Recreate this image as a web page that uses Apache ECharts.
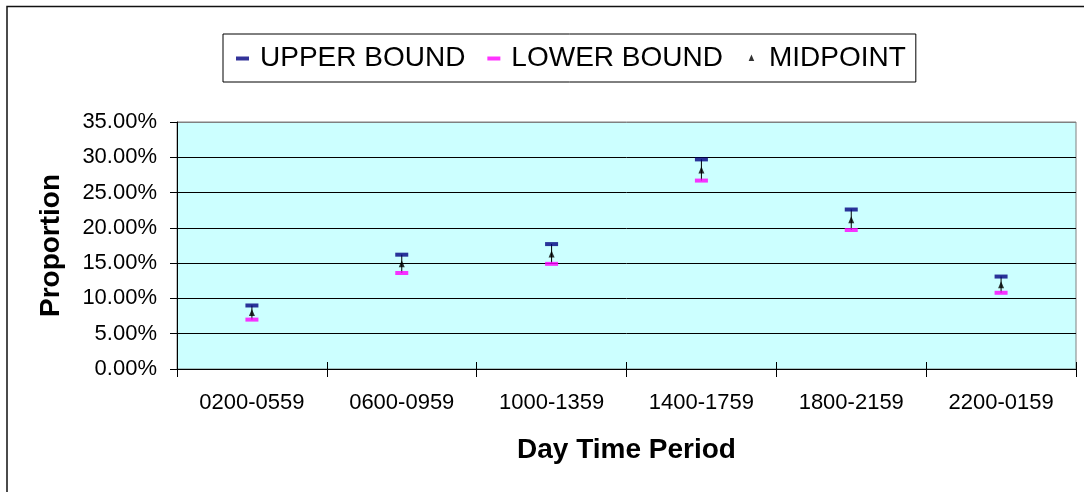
<!DOCTYPE html>
<html>
<head>
<meta charset="utf-8">
<script src="https://cdn.jsdelivr.net/npm/echarts@6/dist/echarts.min.js"></script>
<style>
  html, body { margin: 0; padding: 0; background: #ffffff; }
  #chart { width: 1084px; height: 492px; }
</style>
</head>
<body>
<div id="chart"></div>
<script>
// ---- data (percent values) ----
const categories = ['0200-0559', '0600-0959', '1000-1359', '1400-1759', '1800-2159', '2200-0159'];
const upperBound = [9.0, 16.2, 17.7, 29.7, 22.6, 13.1];
const lowerBound = [7.0, 13.6, 14.9, 26.7, 19.7, 10.8];
const midpoint   = [8.0, 14.9, 16.3, 28.2, 21.15, 11.95];
const seriesNames = ['UPPER BOUND', 'LOWER BOUND', 'MIDPOINT'];
const yTicks = { min: 0, max: 35, interval: 5 };

const FONT = '"Liberation Sans", Arial, sans-serif';

// legend icons: 19x13 box with invisible corner points to keep proportions
const dashIcon = 'path://M0,0h0.01v0.01h-0.01z M19,13h-0.01v-0.01h0.01z M0,5h13v4h-13z';
const triIcon  = 'path://M0,0h0.01v0.01h-0.01z M19,13h-0.01v-0.01h0.01z M6.5,3L9.3,9.5L3.7,9.5z';

const chart = echarts.init(document.getElementById('chart'), null, { renderer: 'canvas' });

const option = {
  animation: false,
  backgroundColor: '#ffffff',
  textStyle: { fontFamily: FONT },
  graphic: [
    {
      type: 'rect',
      shape: { x: 7, y: 6.5, width: 1200, height: 600 },
      style: { fill: 'none', stroke: '#111', lineWidth: 1.5 },
      silent: true
    }
  ],
  legend: {
    left: 223,
    top: 34,
    orient: 'horizontal',
    padding: [10, 10, 10, 13],
    borderColor: '#000',
    borderWidth: 1,
    itemGap: 22,
    itemWidth: 19,
    itemHeight: 13,
    textStyle: { fontSize: 28, color: '#000', fontFamily: FONT },
    data: [
      { name: seriesNames[0], icon: dashIcon, itemStyle: { color: '#000080' } },
      { name: seriesNames[1], icon: dashIcon, itemStyle: { color: '#FF00FF' } },
      { name: seriesNames[2], icon: triIcon, itemStyle: { color: '#000000' } }
    ]
  },
  grid: {
    left: 177,
    top: 122,
    width: 899,
    height: 247,
    show: true,
    backgroundColor: '#CCFFFF',
    borderColor: '#808080',
    borderWidth: 1
  },
  xAxis: [
    {
      type: 'category',
      data: categories,
      boundaryGap: true,
      name: 'Day Time Period',
      nameLocation: 'middle',
      nameGap: 67,
      nameTextStyle: { fontSize: 28, fontWeight: 'bold', color: '#000', fontFamily: FONT },
      axisLine: { show: true, lineStyle: { color: '#000', width: 1 } },
      axisTick: { show: true, inside: false, length: 8, alignWithLabel: false, lineStyle: { color: '#000' } },
      axisLabel: { fontSize: 22, color: '#000', margin: 23, fontFamily: FONT, interval: 0 },
      splitLine: { show: false }
    },
    {
      type: 'category',
      data: categories,
      position: 'bottom',
      boundaryGap: true,
      axisLine: { show: false },
      axisTick: { show: true, inside: true, length: 7, lineStyle: { color: '#000' } },
      axisLabel: { show: false },
      splitLine: { show: false }
    }
  ],
  yAxis: {
    type: 'value',
    min: yTicks.min,
    max: yTicks.max,
    interval: yTicks.interval,
    name: 'Proportion',
    nameLocation: 'middle',
    nameGap: 112,
    nameTextStyle: { fontSize: 28, fontWeight: 'bold', color: '#000', fontFamily: FONT },
    axisLine: { show: true, lineStyle: { color: '#000', width: 1 } },
    axisTick: { show: true, inside: false, length: 7, lineStyle: { color: '#000' } },
    axisLabel: {
      fontSize: 22, color: '#000', margin: 20, fontFamily: FONT,
      formatter: v => v.toFixed(2) + '%'
    },
    splitLine: {
      show: true,
      lineStyle: { color: ['#000', '#000', '#000', '#000', '#000', '#000', '#000', '#808080'], width: 1 }
    }
  },
  series: [
    {
      name: 'range',
      type: 'custom',
      xAxisIndex: 0,
      encode: { x: 0, y: [1, 2] },
      data: categories.map((c, i) => [i, upperBound[i], lowerBound[i]]),
      renderItem: function (params, api) {
        const a = api.coord([api.value(0), api.value(1)]);
        const b = api.coord([api.value(0), api.value(2)]);
        return {
          type: 'line',
          shape: { x1: a[0], y1: a[1], x2: b[0], y2: b[1] },
          style: { stroke: '#000', lineWidth: 1 }
        };
      },
      z: 2,
      silent: true
    },
    {
      name: seriesNames[0],
      type: 'scatter',
      xAxisIndex: 0,
      data: upperBound,
      symbol: 'rect',
      symbolSize: [13, 4],
      itemStyle: { color: '#000080' },
      z: 3
    },
    {
      name: seriesNames[1],
      type: 'scatter',
      xAxisIndex: 0,
      data: lowerBound,
      symbol: 'rect',
      symbolSize: [13, 4],
      itemStyle: { color: '#FF00FF' },
      z: 3
    },
    {
      name: seriesNames[2],
      type: 'scatter',
      xAxisIndex: 0,
      data: midpoint,
      symbol: 'triangle',
      symbolSize: [6, 7],
      itemStyle: { color: '#000000' },
      z: 4
    }
  ]
};

chart.setOption(option);
</script>
</body>
</html>
